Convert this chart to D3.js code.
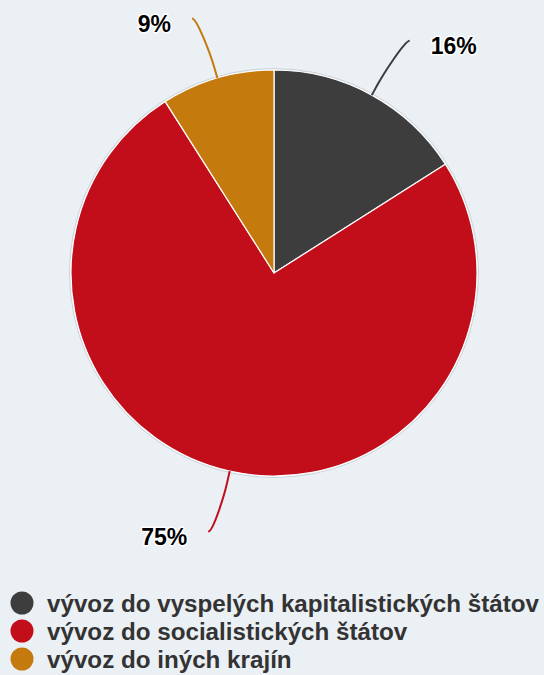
<!DOCTYPE html>
<html>
<head>
<meta charset="utf-8">
<script src="https://cdn.jsdelivr.net/npm/d3@7"></script>
<style>
  html, body { margin: 0; padding: 0; background: #ebf0f5; }
  svg { display: block; font-family: "Liberation Sans", Arial, sans-serif; }
</style>
</head>
<body>
<div class="Chart"></div>
<script>
// chart data
var categories = ["vývoz do vyspelých kapitalistických štátov",
                  "vývoz do socialistických štátov",
                  "vývoz do iných krajín"];
var values = [16, 75, 9];
var colors = ["#3d3d3d", "#c20e1a", "#c47a0d"];

function drawChart() {
  var width = 544;
  var height = 675;
  var cx = 274, cy = 273, radius = 203;

  var svg = d3.select(".Chart")
              .append("svg")
              .attr("width", width)
              .attr("height", height);

  svg.append("rect")
     .attr("width", width)
     .attr("height", height)
     .attr("fill", "#ebf0f5");

  var data = categories.map(function(c, i) {
    return {name: c, value: values[i], color: colors[i]};
  });

  var pie = d3.pie()
              .sort(null)
              .value(function(d) { return d.value; });

  var arc = d3.arc()
              .innerRadius(0)
              .outerRadius(radius);

  var arcs = pie(data);

  var g = svg.append("g")
             .attr("transform", "translate(" + cx + "," + cy + ")");

  // faint shadow round the pie
  g.append("circle")
   .attr("r", radius + 1.5)
   .attr("fill", "none")
   .attr("stroke", "#b9bec4")
   .attr("stroke-opacity", 0.6)
   .attr("stroke-width", 1);

  g.selectAll("path.slice")
   .data(arcs)
   .enter().append("path")
   .attr("class", "slice")
   .attr("d", arc)
   .attr("fill", function(d) { return d.data.color; })
   .attr("stroke", "#ffffff")
   .attr("stroke-width", 1.2)
   .attr("stroke-linejoin", "round");

  // label geometry
  function pos(a, r) { return [Math.sin(a) * r, -Math.cos(a) * r]; }

  arcs.forEach(function(d) {
    var mid = (d.startAngle + d.endAngle) / 2;
    var right = Math.sin(mid) >= 0;
    var side = right ? 1 : -1;
    var touch = pos(mid, radius);
    var brk = pos(mid, radius + 12);
    var end = pos(mid, radius + 62);
    end[0] += side * 8;

    var p = d3.path();
    p.moveTo(end[0], end[1]);
    p.bezierCurveTo(end[0] - side * 5, end[1],
                    2 * brk[0] - touch[0], 2 * brk[1] - touch[1],
                    brk[0], brk[1]);
    p.lineTo(touch[0], touch[1]);

    g.append("path")
     .attr("d", p.toString())
     .attr("fill", "none")
     .attr("stroke", d.data.color)
     .attr("stroke-width", 2);

    g.append("text")
     .attr("x", end[0] + side * 21)
     .attr("y", end[1] + 5)
     .attr("dy", "0.36em")
     .attr("text-anchor", right ? "start" : "end")
     .attr("font-size", 23)
     .attr("font-weight", "bold")
     .attr("fill", "#000000")
     .attr("stroke", "#ffffff")
     .attr("stroke-width", 3)
     .attr("stroke-linejoin", "round")
     .attr("paint-order", "stroke")
     .text(d3.format(".0f")(d.data.value) + "%");
  });

  // legend
  var legend = svg.selectAll("g.legend")
                  .data(data)
                  .enter().append("g")
                  .attr("class", "legend")
                  .attr("transform", function(d, i) {
                    return "translate(22," + (603 + i * 28) + ")";
                  });

  legend.append("circle")
        .attr("r", 11.5)
        .attr("fill", function(d) { return d.color; });

  legend.append("text")
        .attr("x", 25)
        .attr("dy", "0.36em")
        .attr("font-size", 24.2)
        .attr("font-weight", "bold")
        .attr("fill", "#333333")
        .text(function(d) { return d.name; });
}

drawChart();
</script>
</body>
</html>
